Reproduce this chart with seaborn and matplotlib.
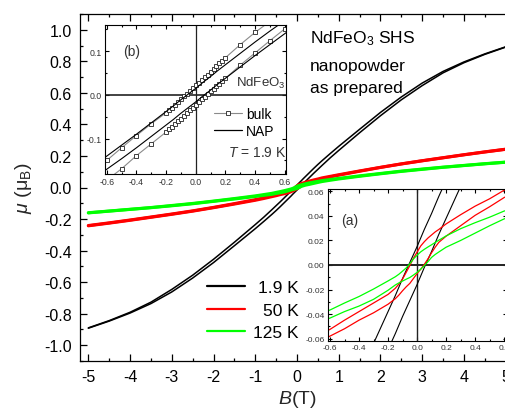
import matplotlib
matplotlib.use("Agg")
import matplotlib.pyplot as plt
from matplotlib.lines import Line2D
from matplotlib.ticker import MultipleLocator, FormatStrFormatter
import pandas as pd
import seaborn as sns

# magnetic field grid (T)
field = [-5, -4.5, -4, -3.5, -3, -2.5, -2, -1.5, -1, -0.8, -0.6, -0.5, -0.4, -0.3,
         -0.2, -0.15, -0.125, -0.1, -0.075, -0.05, -0.025, 0, 0.025, 0.05, 0.075,
         0.1, 0.125, 0.15, 0.2, 0.3, 0.4, 0.5, 0.6, 0.8, 1, 1.5, 2, 2.5, 3, 3.5, 4,
         4.5, 5]

# moment per formula unit (mu_B), descending / ascending field branches
m19_dec = [-0.890, -0.844, -0.791, -0.727, -0.646, -0.556, -0.455, -0.347, -0.235,
           -0.189, -0.140, -0.115, -0.090, -0.064, -0.038, -0.025, -0.018, -0.011,
           -0.0045, 0.002, 0.0085, 0.015, 0.022, 0.029, 0.0355, 0.042, 0.049, 0.056,
           0.069, 0.095, 0.121, 0.146, 0.170, 0.216, 0.261, 0.369, 0.476, 0.574,
           0.662, 0.736, 0.796, 0.847, 0.892]
m19_inc = [-0.892, -0.847, -0.796, -0.736, -0.662, -0.574, -0.476, -0.369, -0.261,
           -0.216, -0.170, -0.146, -0.121, -0.095, -0.069, -0.056, -0.049, -0.042,
           -0.0355, -0.029, -0.0225, -0.016, -0.009, -0.002, 0.0045, 0.011, 0.018,
           0.025, 0.038, 0.064, 0.090, 0.115, 0.140, 0.189, 0.235, 0.347, 0.455,
           0.556, 0.646, 0.727, 0.791, 0.844, 0.890]

m50_dec = [-0.241, -0.224, -0.206, -0.187, -0.168, -0.148, -0.126, -0.102, -0.077,
           -0.065, -0.0525, -0.045, -0.038, -0.031, -0.024, -0.019, -0.0155, -0.0115,
           -0.006, -0.0005, 0.0055, 0.0105, 0.0155, 0.019, 0.022, 0.0245, 0.027,
           0.029, 0.0335, 0.041, 0.048, 0.054, 0.061, 0.071, 0.081, 0.105, 0.128,
           0.150, 0.170, 0.189, 0.208, 0.226, 0.243]
m50_inc = [-0.243, -0.226, -0.208, -0.189, -0.170, -0.150, -0.128, -0.105, -0.081,
           -0.070, -0.058, -0.052, -0.045, -0.039, -0.032, -0.0275, -0.0245, -0.021,
           -0.0178, -0.015, -0.011, -0.007, -0.0035, 0.0005, 0.005, 0.010, 0.0145,
           0.0185, 0.0235, 0.032, 0.0405, 0.0475, 0.055, 0.067, 0.078, 0.103, 0.127,
           0.149, 0.169, 0.188, 0.207, 0.225, 0.242]

m125_dec = [-0.160, -0.149, -0.138, -0.127, -0.114, -0.101, -0.086, -0.070, -0.053,
            -0.045, -0.0367, -0.031, -0.0257, -0.0196, -0.013, -0.0096, -0.0075,
            -0.005, -0.0024, 0.001, 0.0049, 0.008, 0.0107, 0.0128, 0.0147, 0.0165,
            0.0184, 0.0202, 0.0237, 0.0296, 0.0345, 0.039, 0.044, 0.051, 0.058,
            0.074, 0.089, 0.104, 0.117, 0.129, 0.140, 0.151, 0.161]
m125_inc = [-0.161, -0.150, -0.139, -0.128, -0.116, -0.103, -0.088, -0.073, -0.057,
            -0.050, -0.0433, -0.038, -0.0335, -0.028, -0.0206, -0.0163, -0.0146,
            -0.0131, -0.0116, -0.0102, -0.0082, -0.006, -0.0034, -0.0006, 0.0027,
            0.0062, 0.0086, 0.0106, 0.0145, 0.020, 0.026, 0.032, 0.0376, 0.046,
            0.054, 0.071, 0.087, 0.102, 0.115, 0.128, 0.139, 0.150, 0.160]

# bulk NdFeO3 at 1.9 K
bulk_field = [-0.6, -0.5, -0.4, -0.3, -0.2, -0.18, -0.16, -0.14, -0.12, -0.10, -0.08,
              -0.06, -0.04, -0.02, 0.0, 0.02, 0.04, 0.06, 0.08, 0.10, 0.12, 0.14,
              0.16, 0.18, 0.2, 0.3, 0.4, 0.5, 0.6]
bulk_dec = [-0.150, -0.121, -0.093, -0.066, -0.041, -0.035, -0.029, -0.023, -0.016,
            -0.009, -0.003, 0.003, 0.009, 0.015, 0.022, 0.028, 0.034, 0.040, 0.046,
            0.053, 0.059, 0.066, 0.072, 0.078, 0.085, 0.115, 0.143, 0.168, 0.192]
bulk_inc = [-0.195, -0.169, -0.139, -0.112, -0.085, -0.079, -0.073, -0.067, -0.060,
            -0.054, -0.048, -0.042, -0.035, -0.029, -0.023, -0.017, -0.010, -0.004,
            0.002, 0.008, 0.014, 0.020, 0.026, 0.032, 0.038, 0.068, 0.096, 0.124, 0.151]

temps = ["1.9 K", "50 K", "125 K"]
colors = ["#000000", "#ff0000", "#00ff00"]

rows = []
for T, dec, inc in zip(temps, [m19_dec, m50_dec, m125_dec], [m19_inc, m50_inc, m125_inc]):
    for br, vals in (("dec", dec), ("inc", inc)):
        for b, m in zip(field, vals):
            rows.append({"T": T, "branch": br, "B": b, "mu": m})
loops = pd.DataFrame(rows)

bulk = pd.DataFrame({
    "B": bulk_field + bulk_field,
    "mu": bulk_dec + bulk_inc,
    "branch": ["dec"] * len(bulk_field) + ["inc"] * len(bulk_field),
})

sns.set_theme(style="ticks")
plt.rcParams.update({
    "font.family": ["Liberation Sans", "DejaVu Sans"],
    "mathtext.fontset": "custom",
    "mathtext.rm": "Liberation Sans",
    "mathtext.it": "Liberation Sans:italic",
    "mathtext.bf": "Liberation Sans:bold",
    "axes.unicode_minus": False,
    "axes.linewidth": 0.9,
    "axes.edgecolor": "black",
    "text.color": "black",
})

W, H = 505, 410


def fx(px):
    return px / W


def fy(py):
    return 1 - py / H


fig = plt.figure(figsize=(W / 100, H / 100), dpi=100)
fig.patch.set_facecolor("white")


def style_axes(a, size, major, minor, color, pad, width=0.9):
    a.tick_params(which="both", direction="in", top=True, right=True,
                  width=width, colors="black", labelcolor=color,
                  labelsize=size, pad=pad)
    a.tick_params(which="major", length=major)
    a.tick_params(which="minor", length=minor)
    for s in a.spines.values():
        s.set_visible(True)
        s.set_color("black")
        s.set_linewidth(width)


def draw_loops(a, lws):
    for T, c, lw in zip(temps, colors, lws):
        sns.lineplot(data=loops[loops["T"] == T], x="B", y="mu", units="branch",
                     estimator=None, sort=False, color=c, lw=lw, ax=a, legend=False)


# ---------- main panel ----------
ax = fig.add_axes([fx(80), fy(362), fx(514) - fx(80), fy(15) - fy(362)])
draw_loops(ax, [1.1, 2.2, 2.2])
ax.set_xlim(-5.2, 5.2)
ax.set_ylim(-1.1, 1.1)
ax.xaxis.set_major_locator(MultipleLocator(1))
ax.xaxis.set_minor_locator(MultipleLocator(0.5))
ax.yaxis.set_major_locator(MultipleLocator(0.2))
ax.yaxis.set_minor_locator(MultipleLocator(0.1))
ax.xaxis.set_major_formatter(FormatStrFormatter("%d"))
ax.yaxis.set_major_formatter(FormatStrFormatter("%.1f"))
style_axes(ax, 11.5, 5, 2.5, "black", 6)
ax.set_xlabel(r"$\mathit{B}$(T)", fontsize=14)
ax.set_ylabel(r"$\mathit{μ}$ (μ$_\mathrm{B}$)", fontsize=14)
ax.xaxis.set_label_coords(0.5, -(389 - 362) / 347)
ax.yaxis.set_label_coords((34 - 80) / 434, 0.5)

handles = [Line2D([], [], color=c, lw=1.6) for c in colors]
leg = ax.legend(handles, temps, loc="upper left",
                bbox_to_anchor=(fx(207), fy(281)), bbox_transform=fig.transFigure,
                frameon=False, fontsize=12.5, handlelength=2.2, handletextpad=0.45,
                labelspacing=0.42, borderpad=0, borderaxespad=0)
fig.canvas.draw()
rend = fig.canvas.get_renderer()
widths = [t.get_window_extent(rend).width for t in leg.get_texts()]
wmax = max(widths)
# right-align the temperature labels
for t, w in zip(leg.get_texts(), widths):
    t.set_position((wmax - w, 0))

fig.text(fx(310), fy(43.5), r"NdFeO$_3$ SHS", fontsize=12.5, va="baseline")
fig.text(fx(310), fy(71.5), "nanopowder", fontsize=12.5, va="baseline")
fig.text(fx(310), fy(93.5), "as prepared", fontsize=12.5, va="baseline")

# ---------- inset (a): low-field loops ----------
axa = fig.add_axes([fx(328), fy(342), fx(507) - fx(328), fy(190) - fy(342)])
axa.set_facecolor("white")
axa.axhline(0, color="#222222", lw=1.4, zorder=1)
axa.axvline(0, color="#222222", lw=1.0, zorder=1)
draw_loops(axa, [0.8, 0.9, 0.9])
axa.set_xlim(-0.614, 0.62)
axa.set_ylim(-0.062, 0.062)
axa.xaxis.set_major_locator(MultipleLocator(0.2))
axa.xaxis.set_minor_locator(MultipleLocator(0.1))
axa.yaxis.set_major_locator(MultipleLocator(0.02))
axa.yaxis.set_minor_locator(MultipleLocator(0.01))
axa.xaxis.set_major_formatter(FormatStrFormatter("%.1f"))
axa.yaxis.set_major_formatter(FormatStrFormatter("%.2f"))
style_axes(axa, 6, 3, 1.5, "#333333", 2.5, width=0.8)
axa.set_xlabel("")
axa.set_ylabel("")
fig.text(fx(341), fy(225), "(a)", fontsize=10, color="#333333", va="baseline")

# ---------- inset (b): bulk vs nanopowder ----------
axb = fig.add_axes([fx(105), fy(175), fx(286) - fx(105), fy(26) - fy(175)])
axb.set_facecolor("white")
axb.axhline(0, color="#222222", lw=1.2, zorder=1)
axb.axvline(0, color="#222222", lw=0.9, zorder=1)
sns.lineplot(data=bulk, x="B", y="mu", units="branch", estimator=None, sort=False,
             color="#8a8a8a", lw=0.8, marker="s", markersize=2.8,
             markerfacecolor="white", markeredgecolor="#222222",
             markeredgewidth=0.6, ax=axb, legend=False)
sns.lineplot(data=loops[loops["T"] == "1.9 K"], x="B", y="mu", units="branch",
             estimator=None, sort=False, color="black", lw=0.8, ax=axb, legend=False)
axb.set_xlim(-0.612, 0.609)
axb.set_ylim(-0.181, 0.160)
axb.xaxis.set_major_locator(MultipleLocator(0.2))
axb.xaxis.set_minor_locator(MultipleLocator(0.1))
axb.yaxis.set_major_locator(MultipleLocator(0.1))
axb.yaxis.set_minor_locator(MultipleLocator(0.05))
axb.xaxis.set_major_formatter(FormatStrFormatter("%.1f"))
axb.yaxis.set_major_formatter(FormatStrFormatter("%.1f"))
style_axes(axb, 6.3, 3, 1.5, "#333333", 2.5, width=0.8)
axb.set_xlabel("")
axb.set_ylabel("")

bh = [Line2D([], [], color="#8a8a8a", lw=0.8, marker="s", markersize=2.8,
             markerfacecolor="white", markeredgecolor="#222222", markeredgewidth=0.6),
      Line2D([], [], color="black", lw=0.9)]
axb.legend(bh, ["bulk", "NAP"], loc="upper left",
           bbox_to_anchor=(fx(214), fy(108)), bbox_transform=fig.transFigure,
           frameon=False, fontsize=10, handlelength=2.0, handletextpad=0.3,
           labelspacing=0.22, borderpad=0, borderaxespad=0)
fig.text(fx(123), fy(56), "(b)", fontsize=10, color="#333333", va="baseline")
fig.text(fx(236), fy(87), r"NdFeO$_3$", fontsize=9.5, color="#333333", va="baseline")
fig.text(fx(228), fy(157), r"$\mathit{T}$ = 1.9 K", fontsize=10, color="#333333",
         va="baseline")

fig.savefig("out.png", dpi=100, facecolor="white")
